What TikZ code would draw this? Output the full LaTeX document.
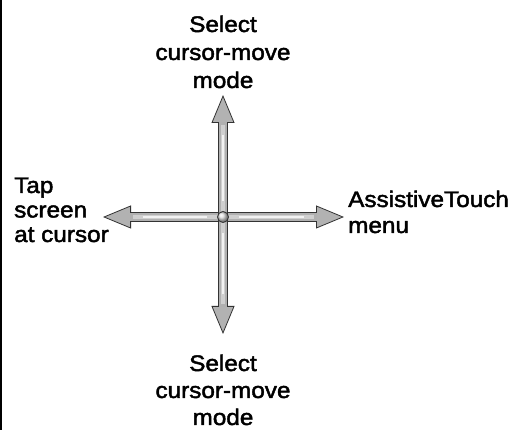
\documentclass[tikz,border=0pt]{standalone}
\usepackage{fontspec}
\setmainfont{Liberation Sans}[FakeStretch=1.08,FakeBold=2]
\usetikzlibrary{arrows.meta}
\tikzset{
  lbl/.style={inner sep=0pt, text=black},
  armout/.style={line width=9.5pt, draw=gray!40!black,
    -{Triangle[length=28pt,width=23pt,color=gray!40!black,fill=gray!60,line width=0.8pt]}},
  armmid/.style={line width=7.5pt, draw=gray!62, shorten >=27pt},
  armhi/.style={line width=4.5pt, draw=gray!38, shorten >=30pt, shorten <=6pt},
  armcore/.style={line width=1.8pt, draw=gray!10, shorten >=40pt, shorten <=16pt},
  ball/.style={circle, inner sep=0pt, minimum size=11pt, draw=gray!40!black, line width=0.8pt, ball color=gray!25}
}
\begin{document}
\begin{tikzpicture}[x=1pt,y=-1pt]
\useasboundingbox (0,0) rectangle (523,430);
\draw[line width=2pt] (1,0) -- (1,430);
\coordinate (c) at (223,217);
\coordinate (tu) at (223,95);
\coordinate (td) at (223,334);
\coordinate (tl) at (103,217);
\coordinate (tr) at (344,217);
\foreach \t in {tl,tr}{
  \draw[armout] (c) -- (\t);
  \draw[armmid] (c) -- (\t);
  \draw[armhi] (c) -- (\t);
  \draw[armcore] (c) -- (\t);
}
\foreach \t in {tu,td}{
  \draw[armout] (c) -- (\t);
  \draw[armmid] (c) -- (\t);
  \draw[armhi] (c) -- (\t);
  \draw[armcore] (c) -- (\t);
}
\node[ball] (cb) at (c) {};
\node[lbl, font=\fontsize{22.5}{28}\selectfont, align=center, anchor=base] (top) at (223,88) {Select\\cursor-move\\mode};
\node[lbl, font=\fontsize{22.5}{27}\selectfont, align=center, anchor=base] (bot) at (223,425) {Select\\cursor-move\\mode};
\node[lbl, font=\fontsize{22.5}{24.5}\selectfont, align=left, anchor=base west] (left) at (14,242) {Tap\\screen\\at cursor};
\node[lbl, font=\fontsize{22.5}{26}\selectfont, align=left, anchor=base west] (right) at (348,233) {AssistiveTouch\\menu};
\end{tikzpicture}
\end{document}
